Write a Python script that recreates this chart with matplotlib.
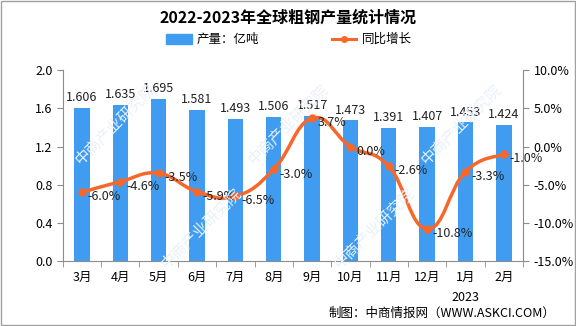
import matplotlib.pyplot as plt
import numpy as np
from matplotlib.path import Path
from matplotlib.patches import PathPatch, Rectangle

plt.rcParams['font.family'] = ['Noto Sans CJK SC', 'DejaVu Sans']

months = ['3月', '4月', '5月', '6月', '7月', '8月', '9月', '10月', '11月', '12月', '1月', '2月']
output = [1.606, 1.635, 1.695, 1.581, 1.493, 1.506, 1.517, 1.473, 1.391, 1.407, 1.453, 1.424]
growth = [-6.0, -4.6, -3.5, -5.9, -6.5, -3.0, 3.7, 0.0, -2.6, -10.8, -3.3, -1.0]

bar_c = '#3f9cf0'
line_c = '#f7672a'
axis_c = '#8c8c8c'

fig = plt.figure(figsize=(5.76, 3.26), dpi=100)
fig.patches.append(Rectangle((0.002, 0.003), 0.996, 0.994, transform=fig.transFigure,
                             fill=False, ec='#a0a0a0', lw=1))

# faint watermarks
for wx, wy in [(0.2, 0.62), (0.5, 0.62), (0.8, 0.62), (0.35, 0.3), (0.65, 0.3)]:
    fig.text(wx, wy, '中商产业研究院', rotation=45, fontsize=11, color='#e8f1f9',
             ha='center', va='center', zorder=0)

ax = fig.add_axes([0.109, 0.199, 0.799, 0.586])
ax.patch.set_alpha(0)
x = np.arange(len(months))
ax.bar(x, output, width=0.4, color=bar_c, zorder=2)
for xi, v in zip(x, output):
    ax.text(xi, v + 0.04, f'{v:.3f}', ha='center', va='bottom', fontsize=9, color='#222222')

ax.set_ylim(0, 2.0)
ax.set_yticks(np.arange(0, 2.01, 0.4))
ax.set_yticklabels([f'{t:.1f}' for t in np.arange(0, 2.01, 0.4)], fontsize=9)
ax.set_xlim(-0.5, len(months) - 0.5)
ax.set_xticks(x)
ax.set_xticklabels(months, fontsize=9)
ax.tick_params(axis='x', length=0, pad=7)
ax.set_xticks(np.arange(-0.5, len(months)), minor=True)
ax.tick_params(axis='x', which='minor', length=4, color=axis_c)
ax.tick_params(axis='y', length=4, color=axis_c)
for s in ['top', 'right']:
    ax.spines[s].set_visible(False)
for s in ['left', 'bottom']:
    ax.spines[s].set_color(axis_c)
ax.text(10, -0.38, '2023', ha='center', va='center', fontsize=9)

ax2 = ax.twinx()
ax2.set_ylim(-15, 10)
ax2.set_yticks(np.arange(-15, 10.1, 5))
ax2.set_yticklabels([f'{t:.1f}%' for t in np.arange(-15, 10.1, 5)], fontsize=9)
ax2.tick_params(axis='y', length=4, color=axis_c)
for s in ['top', 'left', 'bottom']:
    ax2.spines[s].set_visible(False)
ax2.spines['right'].set_color(axis_c)

# smooth line through the points (cubic bezier segments)
g = np.array(growth)
t = 0.22
verts = [(x[0], g[0])]
codes = [Path.MOVETO]
for i in range(len(x) - 1):
    p0 = (x[max(i - 1, 0)], g[max(i - 1, 0)])
    p1 = (x[i], g[i])
    p2 = (x[i + 1], g[i + 1])
    p3 = (x[min(i + 2, len(x) - 1)], g[min(i + 2, len(x) - 1)])
    c1 = (p1[0] + (p2[0] - p0[0]) * t, p1[1] + (p2[1] - p0[1]) * t)
    c2 = (p2[0] - (p3[0] - p1[0]) * t, p2[1] - (p3[1] - p1[1]) * t)
    verts += [c1, c2, p2]
    codes += [Path.CURVE4] * 3
ax2.add_patch(PathPatch(Path(verts, codes), fill=False, ec=line_c, lw=2.5, zorder=3))
ax2.plot(x, g, 'o', color=line_c, ms=5, zorder=4)
for xi, v in zip(x, growth):
    ax2.text(xi + 0.15, v - 0.6, f'{v:.1f}%', ha='left', va='center', fontsize=9, color='#222222')

fig.text(0.5, 0.945, '2022-2023年全球粗钢产量统计情况', ha='center', va='center',
         fontsize=11.5, fontweight='bold')
# legend
fig.patches.append(Rectangle((0.288, 0.866), 0.045, 0.03, transform=fig.transFigure,
                             color=bar_c))
fig.text(0.342, 0.88, '产量：亿吨', ha='left', va='center', fontsize=9)
fig.lines.append(plt.Line2D([0.577, 0.618], [0.88, 0.88], transform=fig.transFigure,
                            color=line_c, lw=2.2))
fig.lines.append(plt.Line2D([0.5975], [0.88], transform=fig.transFigure, marker='o',
                            color=line_c, ms=4))
fig.text(0.629, 0.88, '同比增长', ha='left', va='center', fontsize=9)

fig.text(0.965, 0.04, '制图：中商情报网（WWW.ASKCI.COM）', ha='right', va='center', fontsize=9)

fig.savefig('out.png', dpi=100)
